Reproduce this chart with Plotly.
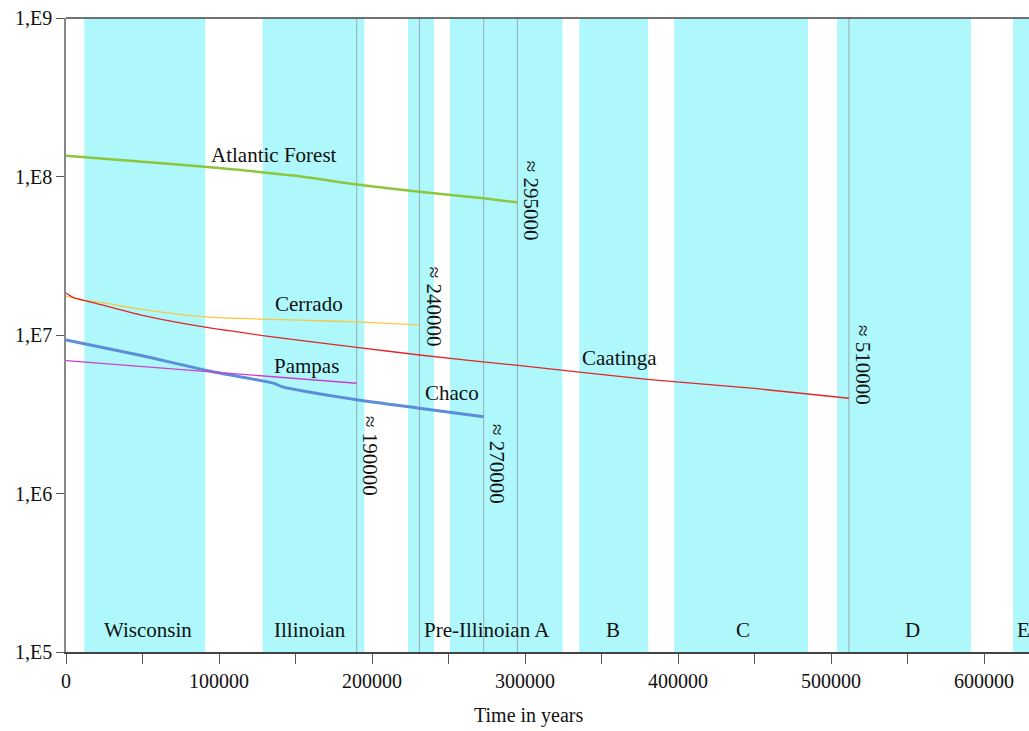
import math
import plotly.graph_objects as go

# Glacial stages (start, end in years) and their names
stage_names = ["Wisconsin", "Illinoian", "", "Pre-Illinoian A", "B", "C", "D", "E"]
stage_start = [12000, 128500, 223500, 251000, 335500, 397500, 504000, 619000]
stage_end = [91000, 195000, 240500, 324500, 380500, 485000, 591500, 640000]
stage_label_x = [53500, 159500, None, 275000, 357500, 442500, 553000, 625500]

# Population curves (time in years, population size)
atlantic_t = [0, 50000, 100000, 150000, 190000, 231000, 273000, 295000]
atlantic_n = [1.35e8, 1.24e8, 1.13e8, 1.01e8, 8.9e7, 8.0e7, 7.3e7, 6.85e7]

cerrado_t = [0, 8000, 22000, 50000, 91000, 153000, 190000, 231000]
cerrado_n = [1.76e7, 1.68e7, 1.61e7, 1.45e7, 1.30e7, 1.24e7, 1.21e7, 1.16e7]

caatinga_t = [0, 5000, 15700, 50000, 91000, 140000, 190000, 231000, 297000, 380000, 450000, 511700]
caatinga_n = [1.84e7, 1.72e7, 1.62e7, 1.33e7, 1.12e7, 9.6e6, 8.36e6, 7.48e6, 6.4e6, 5.25e6, 4.6e6, 3.99e6]

chaco_t = [0, 50000, 91000, 136000, 141000, 190000, 231000, 273000]
chaco_n = [9.3e6, 7.4e6, 6.0e6, 4.95e6, 4.72e6, 3.9e6, 3.45e6, 3.05e6]

pampas_t = [0, 190000]
pampas_n = [6.9e6, 4.96e6]

# Time-to-extinction markers: line position, label text, label centre height
marker_t = [190000, 231000, 273000, 295000, 511700]
marker_text = ["\u2248 190000", "\u2248 240000", "\u2248 270000", "\u2248 295000", "\u2248 510000"]
marker_label_y = [1.73e6, 1.50e7, 1.54e6, 7.0e7, 6.47e6]

curve_names = ["Atlantic Forest", "Cerrado", "Caatinga", "Chaco", "Pampas"]
curve_label_x = [136000, 159000, 362000, 252000, 157000]
curve_label_y = [1.36e8, 1.58e7, 7.2e6, 4.3e6, 6.4e6]

y_tickvals = [1e5, 1e6, 1e7, 1e8, 1e9]
y_ticktext = ["1,E5", "1,E6", "1,E7", "1,E8", "1,E9"]
x_tickvals = list(range(0, 650000, 50000))
x_ticktext = [str(v) if v % 100000 == 0 else "" for v in x_tickvals]

SERIF = "Liberation Serif, Times New Roman, serif"
BAND = "#aef8fb"
MARK = "#9aaab4"
TXT = "#111"

fig = go.Figure()

shapes = []
for s, e in zip(stage_start, stage_end):
    shapes.append(dict(type="rect", xref="x", yref="paper", x0=s, x1=e, y0=0, y1=1,
                       fillcolor=BAND, line=dict(width=0), layer="below"))
for t in marker_t:
    shapes.append(dict(type="line", xref="x", yref="paper", x0=t, x1=t, y0=0, y1=1,
                       line=dict(color=MARK, width=1), layer="below"))
# top border of the plot frame
shapes.append(dict(type="line", xref="paper", yref="paper", x0=0, x1=1, y0=1, y1=1,
                   line=dict(color="#444", width=1.5)))

series = [
    (atlantic_t, atlantic_n, "#8cc63f", 2.5),
    (cerrado_t, cerrado_n, "#f7c744", 1.3),
    (caatinga_t, caatinga_n, "#e0282a", 1.3),
    (chaco_t, chaco_n, "#5b8ed8", 3),
    (pampas_t, pampas_n, "#cc3fd0", 1.3),
]
for (t, n, c, w), name in zip(series, curve_names):
    fig.add_trace(go.Scatter(x=t, y=n, mode="lines", name=name,
                             line=dict(color=c, width=w, shape="spline", smoothing=0.6),
                             showlegend=False))

annotations = []
# annotations on a log axis take log10 positions
for name, tx, ny in zip(curve_names, curve_label_x, curve_label_y):
    annotations.append(dict(x=tx, y=math.log10(ny), xref="x", yref="y", yanchor="middle",
                            text=name, showarrow=False,
                            font=dict(family=SERIF, size=21, color=TXT)))

for t, txt, ly in zip(marker_t, marker_text, marker_label_y):
    annotations.append(dict(x=t, y=math.log10(ly), xref="x", yref="y", text=txt, textangle=90,
                            xanchor="left", yanchor="middle", xshift=0, showarrow=False,
                            font=dict(family=SERIF, size=21, color=TXT)))

for name, lx in zip(stage_names, stage_label_x):
    if name and lx is not None:
        annotations.append(dict(x=lx, y=5.14, xref="x", yref="y", text=name, showarrow=False,
                                font=dict(family=SERIF, size=21, color=TXT)))

annotations.append(dict(x=0.48, y=-0.1, xref="paper", yref="paper", text="Time in years",
                        showarrow=False, yanchor="middle",
                        font=dict(family=SERIF, size=20, color=TXT)))

fig.update_layout(
    width=1029, height=731,
    margin=dict(l=66, r=0, t=18, b=79),
    paper_bgcolor="white", plot_bgcolor="white",
    shapes=shapes, annotations=annotations,
    font=dict(family=SERIF, size=20, color=TXT),
    xaxis=dict(range=[0, 629400], tickvals=x_tickvals, ticktext=x_ticktext,
               ticks="outside", ticklen=10, tickcolor="#555", showgrid=False, zeroline=False,
               showline=True, linecolor="#444", linewidth=1.5,
               tickfont=dict(family=SERIF, size=20, color=TXT)),
    yaxis=dict(type="log", range=[5, 9], tickvals=y_tickvals, ticktext=y_ticktext,
               ticks="outside", ticklen=8, tickcolor="#555", showgrid=False, zeroline=False,
               showline=True, linecolor="#888", linewidth=1.5,
               tickfont=dict(family=SERIF, size=20, color=TXT)),
)

fig.write_html("out.html")
